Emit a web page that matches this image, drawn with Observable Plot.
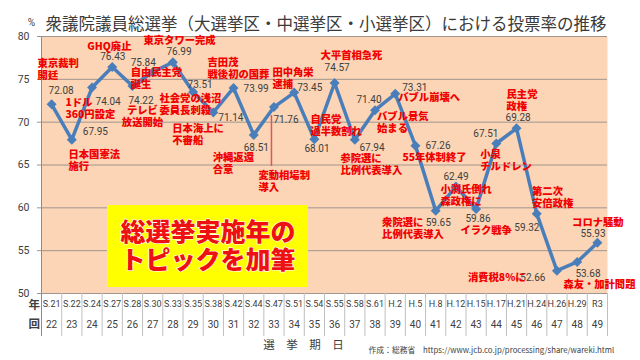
<!DOCTYPE html>
<html><head><meta charset="utf-8">
<script src="https://cdn.jsdelivr.net/npm/d3@7"></script>
<script src="https://cdn.jsdelivr.net/npm/@observablehq/plot@0.6"></script>
<style>html,body{margin:0;padding:0;background:#fff;}svg{display:block;}</style>
</head><body><div id="chart"></div>
<script>
// ---- data ----
const eraLabels = ["S.21","S.22","S.24","S.27","S.28","S.30","S.33","S.35","S.38","S.42","S.44","S.47","S.51","S.54","S.55","S.58","S.61","H.2","H.5","H.8","H.12","H.15","H.17","H.21","H.24","H.26","H.29","R3"];
const sessions = [22,23,24,25,26,27,28,29,30,31,32,33,34,35,36,37,38,39,40,41,42,43,44,45,46,47,48,49];
const turnout = [72.08,67.95,74.04,76.43,74.22,75.84,76.99,73.51,71.14,73.99,68.51,71.76,73.45,68.01,74.57,67.94,71.40,73.31,67.26,59.65,62.49,59.86,67.51,69.28,59.32,52.66,53.68,55.93];
const eventTexts = ["東京裁判\n開廷","日本国憲法\n施行","1ドル\n360円設定","GHQ廃止","テレビ\n放送開始","自由民主党\n誕生","東京タワー完成","社会党の浅沼\n委員長刺殺","日本海上に\n不審船","吉田茂\n戦後初の国葬","沖縄返還\n合意","変動相場制\n導入","田中角栄\n逮捕","自民党\n過半数割れ","大平首相急死","参院選に\n比例代表導入","バブル景気\n始まる","バブル崩壊へ","55年体制終了","衆院選に\n比例代表導入","小渕氏倒れ\n森政権に","イラク戦争","小泉\nチルドレン","民主党\n政権","第二次\n安倍政権","消費税8%に","森友・加計問題","コロナ騒動"];
const yTicks = [50,55,60,65,70,75,80];
const titleText = "衆議院議員総選挙（大選挙区・中選挙区・小選挙区）における投票率の推移";
const unitText = "%";
const xTitle = "選　挙　期　日";
const rowLabels = ["年","回"];
const captionText = "作成：総務省　https://www.jcb.co.jp/processing/share/wareki.html";
const noteText = "総選挙実施年の\nトピックを加筆";

// ---- layout (pixel offsets of labels from their points) ----
const valueOffsets = [[-3,-14],[11,-8],[3.5,14],[-12,-10],[-4,14.5],[-22,-9],[-6.5,-10],[-5.6,-7.6],[5,5],[10,0.5],[-10,12.6],[-0.5,12.4],[3,-5],[-10,9.3],[-10,-15.5],[4.6,7.7],[-18.6,-10.7],[7,-6],[10,0],[-10,12],[-12.5,-10],[-10.7,9.5],[-23,-10],[-11,-11],[-22.4,14],[-36.6,7],[-1.8,11.5],[-17,-9]];
const eventOffsets = [[-14,-41],[-3.3,14],[-26.5,14.6],[-25,-20.6],[10,24.5],[-22,0.5],[-29.4,-21.8],[-33.6,6.4],[-41,16],[-26,-25.5],[-41,22.6],[-15.5,68.4],[-21.7,-20],[-4,-19.7],[-14,-27.5],[-14.4,18],[2,6.3],[3,3.5],[-13,11.6],[-53.6,11.4],[-15.5,2.3],[-15.7,21.5],[-16,11],[-10,-34.5],[-4.7,-22.5],[-89,6.5],[-13.8,21.8],[-25.3,-20.5]];
const eventAnchors = {4: "middle"};
const noteBox = {x1: 2.765, x2: 12.71, y1: 50.70, y2: 60.27};

const jp = "'Noto Sans CJK JP', sans-serif";
const num = "Roboto, 'Noto Sans', sans-serif";
const red = "#F00000";
const ink = "#404040";
const evFont = 10.3, evLH = 1.16;

const rows = sessions.map((s, i) => ({i, s, era: eraLabels[i], v: turnout[i], label: turnout[i].toFixed(2), event: eventTexts[i]}));
const edges = rows.map(d => d.i + 0.5);

const valueMarks = rows.map((d, k) => Plot.text([d], {
  x: "i", y: "v", text: "label", textAnchor: "start",
  dx: valueOffsets[k][0], dy: valueOffsets[k][1],
  fontSize: 10, fontFamily: num, fill: ink
}));
const eventMarks = rows.map((d, k) => {
  const n = d.event.split("\n").length;
  return Plot.text([d], {
    x: "i", y: "v", text: "event",
    textAnchor: eventAnchors[k] || "start",
    lineAnchor: "middle", lineHeight: evLH,
    dx: eventOffsets[k][0], dy: eventOffsets[k][1] + (n - 1) * evFont * evLH / 2,
    fontSize: evFont, fontWeight: 900, fontFamily: jp, fill: red
  });
});

const chart = Plot.plot({
  width: 640, height: 360,
  marginLeft: 41, marginRight: 33, marginTop: 36, marginBottom: 67,
  x: {type: "linear", domain: [-0.5, 27.5], axis: null},
  y: {domain: [50, 80], axis: null},
  style: {fontFamily: jp, background: "#fff"},
  marks: [
    Plot.frame({fill: "#FBD5B5", stroke: null}),
    Plot.gridY(yTicks, {stroke: "#A0968F", strokeOpacity: 1, strokeWidth: 1, insetLeft: -4}),
    Plot.rect([noteBox], {x1: "x1", x2: "x2", y1: "y1", y2: "y2", fill: "#FFFF00"}),
    Plot.text([noteText], {x: (noteBox.x1 + noteBox.x2) / 2, y: (noteBox.y1 + noteBox.y2) / 2, text: d => d,
      fontSize: 25, lineHeight: 1.12, fontWeight: 900, fontFamily: jp, fill: "#EE1111",
      stroke: "#fff", strokeWidth: 1.2, paintOrder: "stroke"}),
    Plot.ruleX([-0.5], {stroke: "#8C8C8C", strokeWidth: 1, insetBottom: -43}),
    Plot.ruleX(edges, {y1: 50, y2: 50, insetBottom: -43, stroke: "#BFBFBF", strokeWidth: 1}),
    Plot.ruleX([rows[11]], {x: "i", y1: "v", y2: "v", dx: -2.5, insetTop: 8.4, insetBottom: -59.4, stroke: "#E8505A", strokeWidth: 1.5}),
    Plot.line(rows, {x: "i", y: "v", stroke: "#4A7EBB", strokeWidth: 3.5, strokeLinejoin: "round"}),
    Plot.dot(rows, {x: "i", y: "v", symbol: "diamond2", r: 4.5, fill: "#4A7EBB", stroke: null}),
    ...valueMarks,
    ...eventMarks,
    Plot.axisY({ticks: yTicks, tickSize: 0, tickPadding: 12, fontSize: 10.5, fontFamily: num, fill: ink, label: null}),
    Plot.text(rows, {x: "i", text: "era", frameAnchor: "bottom", dy: 13.5, fontSize: 9, fontFamily: num, fill: ink}),
    Plot.text(rows, {x: "i", text: d => String(d.s), frameAnchor: "bottom", dy: 34.5, fontSize: 10, fontFamily: num, fill: ink}),
    Plot.text([rowLabels[0]], {text: d => d, frameAnchor: "bottom-left", dx: -13, dy: 15.5, fontSize: 11.5, fontWeight: "bold", fontFamily: jp, fill: ink}),
    Plot.text([rowLabels[1]], {text: d => d, frameAnchor: "bottom-left", dx: -13, dy: 34, fontSize: 11.5, fontWeight: "bold", fontFamily: jp, fill: ink}),
    Plot.text([xTitle], {text: d => d, frameAnchor: "bottom", dx: -21, dy: 55, fontSize: 11.5, fontFamily: jp, fill: ink}),
    Plot.text([captionText], {text: d => d, frameAnchor: "bottom-left", textAnchor: "start", dx: 327, dy: 59, fontSize: 7.8, fontFamily: jp, fill: ink}),
    Plot.text([titleText], {text: d => d, frameAnchor: "top-left", textAnchor: "start", dx: 4, dy: -18, fontSize: 16.5, fontFamily: jp, fill: "#3A3A3A"}),
    Plot.text([unitText], {text: d => d, frameAnchor: "top-left", textAnchor: "middle", dx: -10, dy: -18, fontSize: 10, fontFamily: num, fill: ink})
  ]
});
document.getElementById("chart").appendChild(chart);
</script>
</body></html>
